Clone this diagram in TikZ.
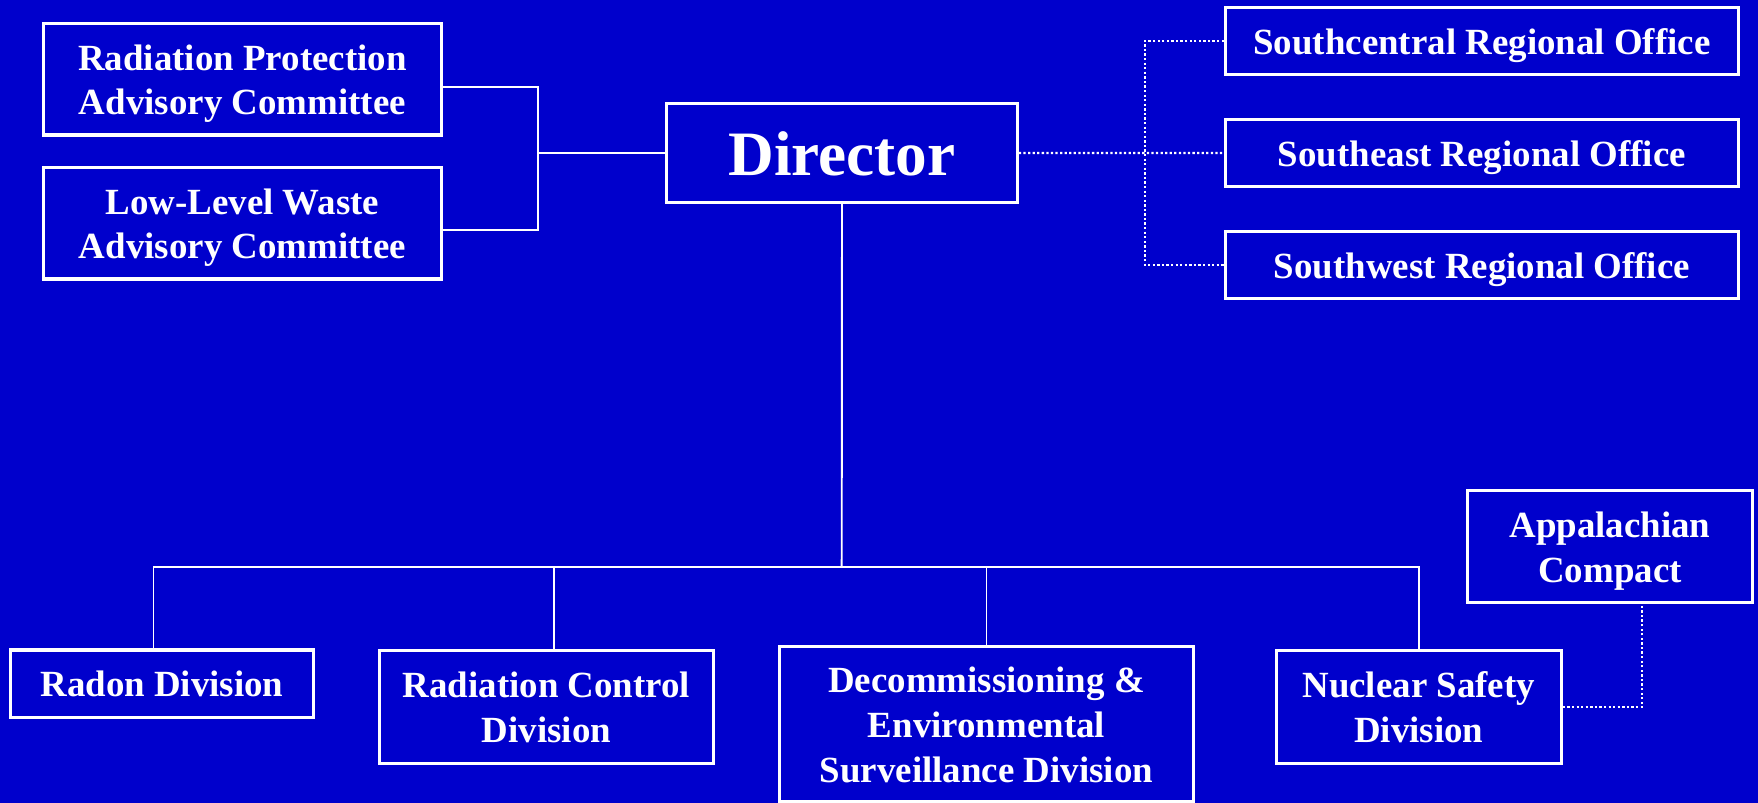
\documentclass[tikz,border=0pt]{standalone}
\usepackage{fontspec}
\setmainfont{Liberation Serif}
\usetikzlibrary{positioning,calc}
\definecolor{orgblue}{RGB}{0,0,204}
\newcommand{\capline}{\rule{0pt}{0.96em}}

\begin{document}
\begin{tikzpicture}[x=0.02cm,y=-0.02cm,
		unit/.style={draw=white,line width=1.9pt,text=white,align=center,inner sep=0pt,
			font=\bfseries\fontsize{21}{25.5}\selectfont,
			execute at begin node={\capline},
			execute at end node={\rule[-0.24em]{0pt}{0pt}}},
		link/.style={draw=white,line width=1.1pt},
		dotlink/.style={draw=white,line width=1.3pt,dash pattern=on 1.3pt off 1.3pt}]
		\useasboundingbox (0,0) rectangle (1758,803);
		\fill[orgblue] (0,0) rectangle (1758,803);
		
		\node[unit,minimum width=7.01cm,minimum height=1.98cm,font=\bfseries\fontsize{36}{40}\selectfont] (dir) at (842,152.9) {Director};
		\node[unit,minimum width=7.97cm,minimum height=2.23cm] (rpac) at (242.4,79.3) {\capline Radiation Protection\\Advisory Committee};
		\node[unit,minimum width=7.97cm,minimum height=2.23cm] (llw) at (242.4,223.2) {\capline Low-Level Waste\\Advisory Committee};
		\node[unit,minimum width=10.26cm,minimum height=1.34cm] (sc) at (1481.9,40.9) {Southcentral Regional Office};
		\node[unit,minimum width=10.26cm,minimum height=1.34cm] (se) at (1481.9,153) {Southeast Regional Office};
		\node[unit,minimum width=10.26cm,minimum height=1.34cm] (sw) at (1481.9,265) {Southwest Regional Office};
		
		\node[unit,minimum width=6.05cm,minimum height=1.35cm] (radon) at (162,683.7) {Radon Division};
		\node[unit,minimum width=6.68cm,minimum height=2.25cm] (rcd) at (546.4,707) {\capline Radiation Control\\Division};
		\node[unit,minimum width=8.28cm,minimum height=3.09cm] (des) at (986.5,724) {\capline Decommissioning \&\\Environmental\\Surveillance Division};
		\node[unit,minimum width=5.7cm,minimum height=2.25cm] (nsd) at (1418.7,707) {\capline Nuclear Safety\\Division};
		\node[unit,minimum width=5.7cm,minimum height=2.23cm] (app) at (1610,546.5) {\capline Appalachian\\Compact};
		
		% advisory committees
		\coordinate (lspine) at (537.7,152.9);
		\draw[link] ([yshift=-0.16cm]rpac.east) -| (lspine) |- ([yshift=-0.14cm]llw.east);
		\draw[link] (lspine) -- (dir.west);
		
		% regional offices
		\coordinate (rspine) at (1145,153);
		\draw[dotlink] (sc.west) -| (rspine) |- (sw.west);
		\draw[dotlink] (dir.east) -- (se.west);
		
		% divisions
		\coordinate (bus) at (841.7,566.7);
		\draw[link] (dir.south) -- (bus);
		\draw[link] ([xshift=-0.17cm]radon.north) |- (bus) -| (nsd.north);
		\draw[link] ([xshift=0.15cm]rcd.north) -- ([xshift=0.15cm]rcd.north |- bus);
		\draw[link] (des.north) -- (des.north |- bus);
		\draw[dotlink] (nsd.east) -| ([xshift=0.64cm]app.south);
	\end{tikzpicture}
\end{document}
